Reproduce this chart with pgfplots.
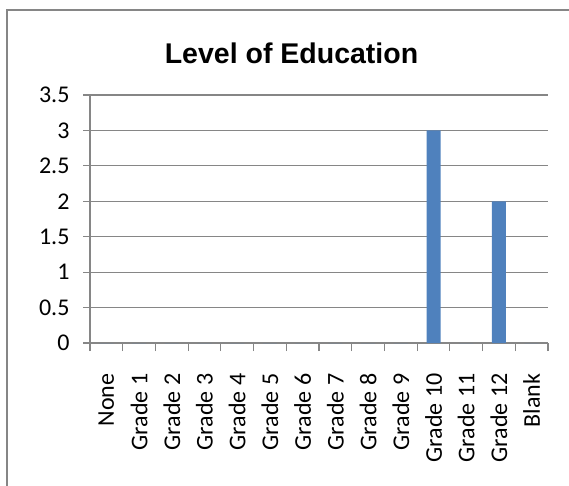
\documentclass[border=0pt]{standalone}
\usepackage{pgfplots}
\pgfplotsset{compat=1.18}
\usepackage{fontspec}
\setmainfont{Carlito}
\newfontfamily\titlefont{Liberation Sans}
\definecolor{barblue}{HTML}{4F81BD}
\definecolor{gridgray}{HTML}{868686}
\begin{document}
\begin{tikzpicture}[x=1pt,y=1pt]
\path[use as bounding box] (0,0) rectangle (569,485);
\clip (0,0) rectangle (569,485);
% outer chart frame
\draw[gridgray, line width=2pt] (7,-30) -- (7,475) -- (620,475);
\node[anchor=base] at (291.5,421.5) {\titlefont\bfseries\fontsize{28.5}{34}\selectfont Level of Education};
\begin{axis}[
    at={(90pt,142pt)}, anchor=south west,
    scale only axis,
    width=458pt, height=248pt,
    xmin=-0.5, xmax=13.5,
    ymin=0, ymax=3.5,
    ytick={0,0.5,...,3.5},
    yticklabels={0,0.5,1,1.5,2,2.5,3,3.5},
    xtick={0,...,13},
    xticklabels={None,Grade 1,Grade 2,Grade 3,Grade 4,Grade 5,Grade 6,Grade 7,Grade 8,Grade 9,Grade 10,Grade 11,Grade 12,Blank},
    minor xtick={-0.5,0.5,...,13.5},
    axis lines*=left,
    axis line style={gridgray, line width=1.2pt},
    ymajorgrids,
    grid style={gridgray, line width=1.2pt},
    tick align=inside,
    major tick length=7pt,
    minor tick length=8pt,
    major x tick style={draw=none},
    minor x tick style={draw=gridgray, line width=1.2pt},
    ytick style={gridgray, line width=1.2pt, xshift=-7pt},
    ticklabel style={font=\fontsize{24}{28}\selectfont},
    yticklabel style={/pgf/number format/assume math mode=true, xshift=-17pt},
    xticklabel style={rotate=90, anchor=east},
    xticklabel shift=20pt,
    ybar, bar width=14pt,
]
\addplot[fill=barblue, draw=none] coordinates {
    (0,0) (1,0) (2,0) (3,0) (4,0) (5,0) (6,0) (7,0) (8,0) (9,0)
    (10,3) (11,0) (12,2) (13,0)
};
\end{axis}
\end{tikzpicture}
\end{document}
